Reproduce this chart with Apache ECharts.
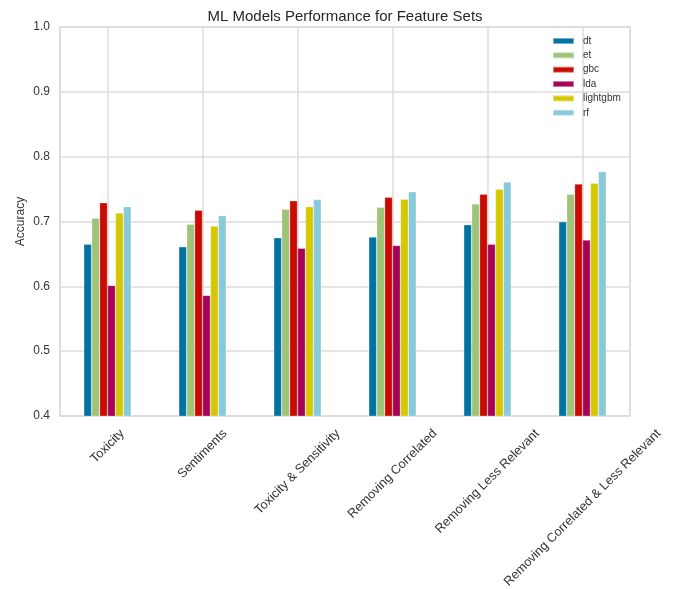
<!DOCTYPE html>
<html>
<head>
<meta charset="utf-8">
<script src="https://cdn.jsdelivr.net/npm/echarts@6/dist/echarts.min.js"></script>
<style>
  html, body { margin: 0; padding: 0; background: #fff; }
  #chart { width: 675px; height: 589px; }
</style>
</head>
<body>
<div id="chart"></div>
<script>
// Feature-set categories on the x axis
const featureSets = [
  'Toxicity',
  'Sentiments',
  'Toxicity & Sensitivity',
  'Removing Correlated',
  'Removing Less Relevant',
  'Removing Correlated & Less Relevant'
];

// Accuracy per model, one value per feature set
const dt       = [0.665, 0.661, 0.675, 0.676, 0.695, 0.6995];
const et       = [0.705, 0.696, 0.719, 0.722, 0.727, 0.742];
const gbc      = [0.729, 0.7175, 0.732, 0.7375, 0.742, 0.758];
const lda      = [0.6015, 0.586, 0.659, 0.663, 0.665, 0.6715];
const lightgbm = [0.713, 0.693, 0.723, 0.7345, 0.750, 0.759];
const rf       = [0.723, 0.709, 0.734, 0.746, 0.761, 0.777];

const modelNames = ['dt', 'et', 'gbc', 'lda', 'lightgbm', 'rf'];
const modelValues = [dt, et, gbc, lda, lightgbm, rf];
const palette = ['#0272a2', '#9fc377', '#ca0b03', '#a50258', '#d7c703', '#88cada'];

const FONT = '"Liberation Sans", Arial, Helvetica, sans-serif';
const xLabelSize = 12.7;

// Rotated tick labels are centred under their tick. Each label is a rich
// block: an empty first line pushes the text down and an empty trailing
// token pushes it back, so the rotated text hangs below the axis.
const ctx = document.createElement('canvas').getContext('2d');
ctx.font = xLabelSize + 'px ' + FONT;
const xRich = {};
const xShift = {};
featureSets.forEach(function (name, i) {
  const w = ctx.measureText(name).width;
  const s = (w + xLabelSize) / 2;
  xShift[name] = i;
  xRich['v' + i] = { height: s, width: 1, fontSize: xLabelSize };
  xRich['h' + i] = { width: s, fontSize: xLabelSize };
  xRich['t' + i] = { fontFamily: FONT, fontSize: xLabelSize, color: '#333', lineHeight: xLabelSize };
});

const chart = echarts.init(document.getElementById('chart'), null, { renderer: 'canvas' });

chart.setOption({
  animation: false,
  backgroundColor: '#ffffff',
  title: {
    text: 'ML Models Performance for Feature Sets',
    left: 340,
    textAlign: 'center',
    top: 4,
    textStyle: { fontFamily: FONT, fontSize: 15, fontWeight: 'normal', color: '#262626' }
  },
  legend: {
    orient: 'vertical',
    left: 552,
    top: 35,
    padding: 0,
    itemWidth: 21,
    itemHeight: 6,
    itemGap: 2.35,
    icon: 'rect',
    data: modelNames,
    textStyle: { fontFamily: FONT, fontSize: 10, lineHeight: 12, color: '#333', padding: [0, 0, 0, 4] }
  },
  grid: {
    left: 60,
    right: 45,
    top: 27,
    bottom: 173,
    containLabel: false,
    outerBoundsMode: 'none',
    show: true,
    borderColor: '#d4d4d4',
    borderWidth: 1.5,
    backgroundColor: 'transparent'
  },
  xAxis: {
    type: 'category',
    data: featureSets,
    axisLine: { show: false },
    axisTick: { show: false },
    splitLine: { show: true, alignWithLabel: true, lineStyle: { color: '#dcdcdc', width: 1.5 } },
    axisLabel: {
      interval: 0,
      rotate: 45,
      align: 'center',
      verticalAlign: 'middle',
      margin: 11,
      hideOverlap: false,
      fontFamily: FONT,
      fontSize: xLabelSize,
      color: '#333',
      rich: xRich,
      formatter: function (name) {
        const i = xShift[name];
        return '{v' + i + '|}\n{t' + i + '|' + name + '}{h' + i + '|}';
      }
    }
  },
  yAxis: {
    type: 'value',
    min: 0.4,
    max: 1.0,
    interval: 0.1,
    name: 'Accuracy',
    nameLocation: 'middle',
    nameGap: 33,
    nameMoveOverlap: false,
    nameTextStyle: { fontFamily: FONT, fontSize: 12, color: '#333' },
    axisLine: { show: false },
    axisTick: { show: false },
    splitLine: { show: true, lineStyle: { color: '#dcdcdc', width: 1.5 } },
    axisLabel: {
      margin: 10,
      fontFamily: FONT,
      fontSize: 12,
      color: '#333',
      formatter: function (v) { return v.toFixed(1); }
    }
  },
  series: modelNames.map(function (name, i) {
    return {
      name: name,
      type: 'bar',
      data: modelValues[i],
      barGap: '0%',
      barCategoryGap: '50%',
      itemStyle: { color: palette[i], borderColor: 'rgba(255,255,255,0.45)', borderWidth: 0.6 }
    };
  })
});
</script>
</body>
</html>
